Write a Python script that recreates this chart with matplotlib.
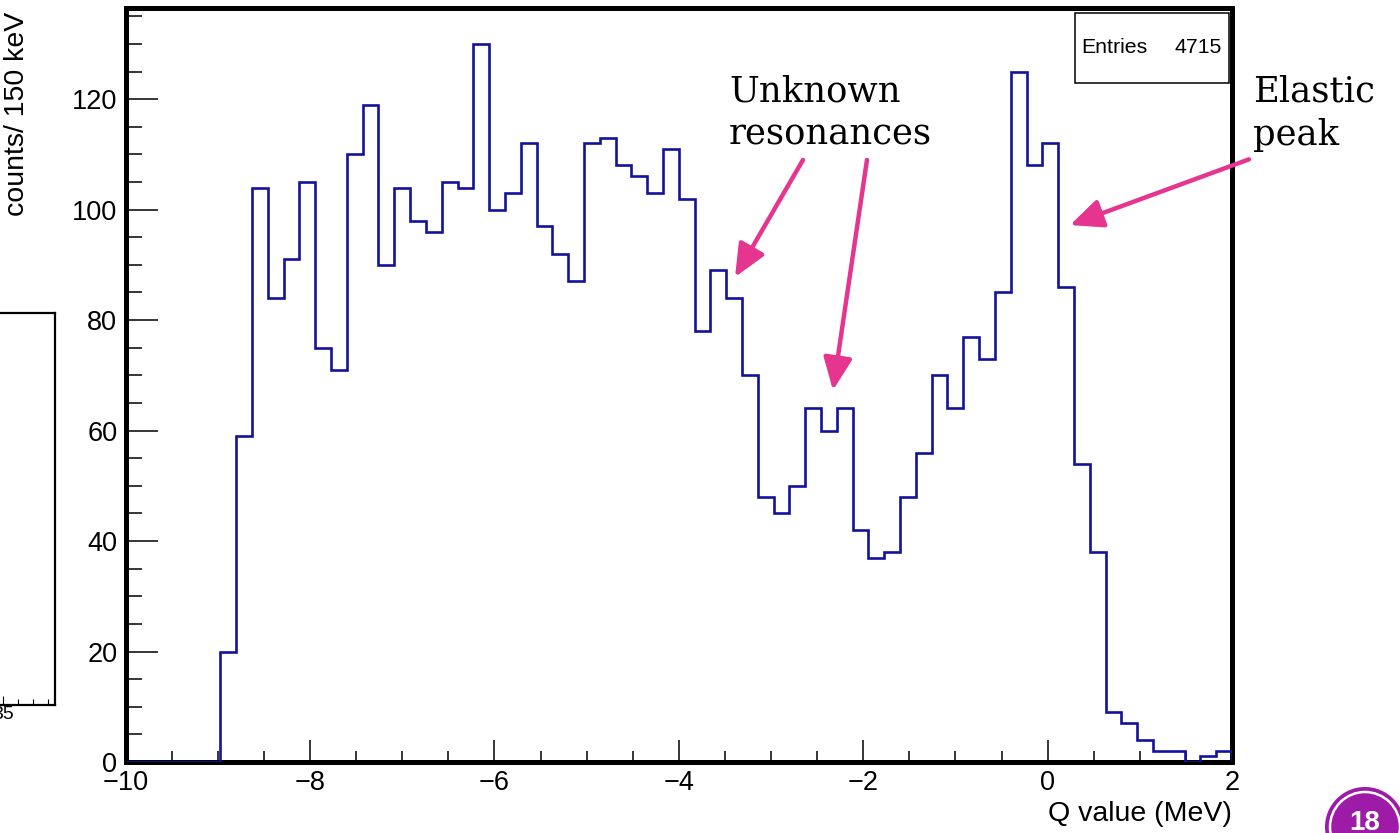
import numpy as np
import matplotlib
matplotlib.use("Agg")
import matplotlib.pyplot as plt
from matplotlib.patches import Rectangle, Circle
from matplotlib.ticker import MultipleLocator
from matplotlib.transforms import IdentityTransform

# Q-value spectrum: 70 bins between -10 and 2 MeV
q_min, q_max, n_bins = -10.0, 2.0, 70
counts = [
    0, 0, 0, 0, 0, 0, 20, 59, 104, 84,
    91, 105, 75, 71, 110, 119, 90, 104, 98, 96,
    105, 104, 130, 100, 103, 112, 97, 92, 87, 112,
    113, 108, 106, 103, 111, 102, 78, 89, 84, 70,
    48, 45, 50, 64, 60, 64, 42, 37, 38, 48,
    56, 70, 64, 77, 73, 85, 125, 108, 112, 86,
    54, 38, 9, 7, 4, 2, 2, 0, 1, 2,
]
entries = 4715

x_ticks = [-10, -8, -6, -4, -2, 0, 2]
y_ticks = [0, 20, 40, 60, 80, 100, 120]

plt.rcParams["font.family"] = ["Liberation Sans", "DejaVu Sans"]

W, H = 1400, 833
fig = plt.figure(figsize=(W / 100, H / 100), dpi=100)
fig.patch.set_facecolor("white")

# ---- fragment of a neighbouring panel on the left edge ----
axl = fig.add_axes([-145 / W, 1 - 705 / H, 200 / W, 392 / H])
axl.set_xlim(35 - 148 / 15, 35 + 52 / 15)
axl.set_ylim(0, 1)
axl.set_yticks([])
axl.xaxis.set_major_locator(MultipleLocator(5))
axl.xaxis.set_minor_locator(MultipleLocator(1))
axl.tick_params(axis="x", which="major", direction="in", length=6.5, width=0.8,
                labelsize=14, pad=1)
axl.tick_params(axis="x", which="minor", direction="in", length=4, width=0.8)
for s in axl.spines.values():
    s.set_linewidth(1.6)

# ---- main histogram ----
ax = fig.add_axes([125.6 / W, 1 - 762 / H, (1232 - 125.6) / W, (762 - 8) / H])
edges = np.linspace(q_min, q_max, n_bins + 1)
ax.stairs(counts, edges, color="#12129E", linewidth=1.9, zorder=3)

ax.set_xlim(q_min, q_max)
ax.set_ylim(0, 136.5)
ax.set_xticks(x_ticks)
ax.set_yticks(y_ticks)
ax.xaxis.set_minor_locator(MultipleLocator(0.5))
ax.yaxis.set_minor_locator(MultipleLocator(5))
ax.tick_params(axis="y", which="major", direction="in", length=23, width=1.1,
               labelsize=19.5, pad=6)
ax.tick_params(axis="y", which="minor", direction="in", length=11.5, width=1.1)
ax.tick_params(axis="x", which="major", direction="in", length=16, width=1.1,
               labelsize=19.5, pad=6)
ax.tick_params(axis="x", which="minor", direction="in", length=8, width=1.1)
for s in ax.spines.values():
    s.set_linewidth(3.6)

ax.set_ylabel("counts/ 150 keV", fontsize=20.5, loc="top")
ax.yaxis.set_label_coords(-0.0864, 0.995)
ax.set_xlabel("Q value (MeV)", fontsize=20.5, loc="right")
ax.xaxis.set_label_coords(1.0, -0.052)

# statistics box
ax.add_patch(Rectangle((0.858, 0.90), 0.139, 0.093, transform=ax.transAxes,
                       facecolor="white", edgecolor="black", linewidth=1.1,
                       zorder=4))
ax.text(0.864, 0.947, "Entries", transform=ax.transAxes, fontsize=15.3,
        ha="left", va="center", zorder=5)
ax.text(0.9907, 0.947, f"{entries}", transform=ax.transAxes, fontsize=15.3,
        ha="right", va="center", zorder=5)

# annotations
arrow_color = "#E5358F"
arrow_kw = dict(arrowstyle="-|>,head_length=0.9,head_width=0.4",
                color=arrow_color, lw=3.2, mutation_scale=22,
                shrinkA=0, shrinkB=0)
ax.annotate("", xy=(-3.39, 87.8), xytext=(-2.653, 109.0),
            arrowprops=arrow_kw, annotation_clip=False, zorder=6)
ax.annotate("", xy=(-2.328, 67.3), xytext=(-1.959, 109.0),
            arrowprops=arrow_kw, annotation_clip=False, zorder=6)
ax.annotate("", xy=(0.243, 97.2), xytext=(2.184, 109.1),
            arrowprops=arrow_kw, annotation_clip=False, zorder=6)

serif = ["DejaVu Serif"]
fig.text(729 / W, 1 - 75 / H, "Unknown\nresonances", family=serif,
         fontsize=25.5, ha="left", va="top", linespacing=1.32)
fig.text(1253 / W, 1 - 75 / H, "Elastic\npeak", family=serif,
         fontsize=25.5, ha="left", va="top", linespacing=1.32)

# page badge
idt = IdentityTransform()
fig.add_artist(Circle((1365, 6), 40, transform=idt, facecolor="#9D1BA6",
                      edgecolor="none"))
fig.add_artist(Circle((1365, 6), 35, transform=idt, facecolor="none",
                      edgecolor="white", linewidth=1.8))
fig.text(1365 / W, 10 / H, "18", color="white", fontsize=20, fontweight="bold",
         ha="center", va="center")

fig.savefig("out.png", dpi=100, facecolor="white")
